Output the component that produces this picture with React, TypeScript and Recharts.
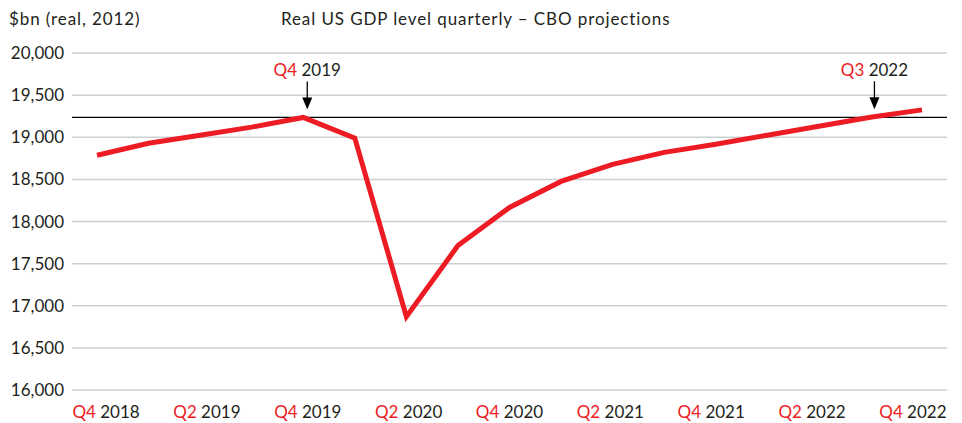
import React from 'react';
import { LineChart, Line, XAxis, YAxis, CartesianGrid, ReferenceLine, ReferenceDot } from 'recharts';

const quarters = [
  'Q4 2018', 'Q1 2019', 'Q2 2019', 'Q3 2019', 'Q4 2019',
  'Q1 2020', 'Q2 2020', 'Q3 2020', 'Q4 2020',
  'Q1 2021', 'Q2 2021', 'Q3 2021', 'Q4 2021',
  'Q1 2022', 'Q2 2022', 'Q3 2022', 'Q4 2022',
];
const gdp = [
  18786, 18929, 19024, 19120, 19235,
  18990, 16870, 17714, 18167,
  18476, 18679, 18821, 18917,
  19024, 19131, 19238, 19325,
];
const yTicks = [16000, 16500, 17000, 17500, 18000, 18500, 19000, 19500, 20000];
const preCrisisLevel = 19235;
const markers = [
  { quarter: 'Q4 2019', value: 19235 },
  { quarter: 'Q3 2022', value: 19238 },
];

const data = quarters.map((q, i) => ({ q, v: gdp[i] }));

const RED = '#ed1c24';
const TEXT = '#231f20';
const FONT = 'Lato, "Noto Sans", sans-serif';

const XTick = (props: any) => {
  const { x, y, payload } = props;
  const [qq, yr] = String(payload.value).split(' ');
  // labels sit on a slightly narrower span than the data points
  const lx = x - (x - 509.5) * 0.022;
  return (
    <text x={lx} y={y + 20} textAnchor="middle" fontSize={17} fontFamily={FONT}>
      <tspan fill={RED}>{qq}</tspan>
      <tspan fill={TEXT}>{' ' + yr}</tspan>
    </text>
  );
};

const YTick = (props: any) => {
  const { x, y, payload } = props;
  return (
    <text x={x} y={y + 6} textAnchor="end" fontSize={17} fontFamily={FONT} fill={TEXT}>
      {Number(payload.value).toLocaleString('en-US')}
    </text>
  );
};

const makeArrow = (label: string) => (props: any) => {
  const { cx, cy } = props;
  const [qq, yr] = label.split(' ');
  const ax = cx + 4;
  return (
    <g>
      <text x={ax} y={cy - 41} textAnchor="middle" fontSize={17} fontFamily={FONT}>
        <tspan fill={RED}>{qq}</tspan>
        <tspan fill={TEXT}>{' ' + yr}</tspan>
      </text>
      <line x1={ax} x2={ax} y1={cy - 36} y2={cy - 16} stroke="#000" strokeWidth={1.3} />
      <polygon points={`${ax - 5},${cy - 20} ${ax + 5},${cy - 20} ${ax},${cy - 8}`} fill="#000" />
    </g>
  );
};

const titleStyle: React.CSSProperties = {
  position: 'absolute',
  top: 8,
  fontFamily: FONT,
  fontSize: 17,
  color: TEXT,
  whiteSpace: 'nowrap',
  letterSpacing: 0.9,
};

export default function App() {
  return (
    <div style={{ position: 'absolute', left: 0, top: 0, width: 962, height: 423, background: '#fff' }}>
      <div style={{ ...titleStyle, left: 9 }}>$bn (real, 2012)</div>
      <div style={{ ...titleStyle, left: 281 }}>Real US GDP level quarterly – CBO projections</div>
      <LineChart width={962} height={423} data={data} margin={{ top: 53, right: 15, bottom: 0, left: 0 }}>
        <CartesianGrid vertical={false} stroke="#cdcfd3" strokeWidth={1.5} />
        <XAxis
          dataKey="q"
          interval={1}
          axisLine={false}
          tickLine={false}
          height={33}
          padding={{ left: 25, right: 25 }}
          tick={<XTick />}
        />
        <YAxis
          domain={[16000, 20000]}
          ticks={yTicks}
          width={72}
          axisLine={false}
          tickLine={false}
          tick={<YTick />}
        />
        <ReferenceLine y={preCrisisLevel} stroke="#000" strokeWidth={1.2} />
        <Line
          type="linear"
          dataKey="v"
          stroke={RED}
          strokeWidth={5}
          dot={false}
          isAnimationActive={false}
        />
        {markers.map((m) => (
          <ReferenceDot key={m.quarter} x={m.quarter} y={m.value} shape={makeArrow(m.quarter)} />
        ))}
      </LineChart>
    </div>
  );
}
